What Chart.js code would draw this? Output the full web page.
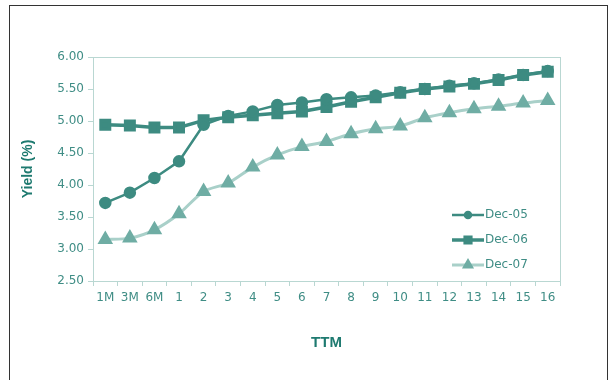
<!DOCTYPE html>
<html>
<head>
<meta charset="utf-8">
<script src="https://cdn.jsdelivr.net/npm/chart.js@4/dist/chart.umd.min.js"></script>
<style>
  html, body { margin: 0; padding: 0; background: #fff; }
  #wrap { position: relative; width: 614px; height: 380px; overflow: hidden; }
  #frame { position: absolute; left: 9px; top: 5px; width: 599px; height: 400px; border: 1px solid #333; box-sizing: border-box; }
  canvas { position: absolute; left: 0; top: 0; }
</style>
</head>
<body>
<div id="wrap">
  <div id="frame"></div>
  <canvas id="chart" width="614" height="380"></canvas>
</div>
<script>
// --- DATOS ---
const categories = ['1M', '3M', '6M', '1', '2', '3', '4', '5', '6', '7', '8', '9', '10', '11', '12', '13', '14', '15', '16'];
const dec05 = [3.72, 3.88, 4.11, 4.37, 4.94, 5.08, 5.15, 5.25, 5.29, 5.34, 5.37, 5.40, 5.45, 5.50, 5.55, 5.59, 5.65, 5.72, 5.78];
const dec06 = [4.94, 4.93, 4.90, 4.90, 5.01, 5.06, 5.09, 5.12, 5.15, 5.22, 5.30, 5.37, 5.44, 5.50, 5.54, 5.58, 5.64, 5.72, 5.77];
const dec07 = [3.15, 3.17, 3.30, 3.55, 3.90, 4.03, 4.28, 4.47, 4.60, 4.68, 4.80, 4.88, 4.92, 5.05, 5.13, 5.19, 5.23, 5.28, 5.32];
const yTicks = [2.5, 3.0, 3.5, 4.0, 4.5, 5.0, 5.5, 6.0];

const TEXT = '#3f8d85';
const TITLE = '#1e7a70';
const AXIS = '#b9d7d2';
const DARK = '#3d8b81';
const LIGHT_LINE = '#a9d0c9';
const LIGHT_PT = '#6fada4';

// leyenda dibujada dentro del área del gráfico
const insideLegend = {
    id: 'insideLegend',
    afterDatasetsDraw(chart) {
        const ctx = chart.ctx;
        const x0 = 452, x1 = 484;
        const ys = [215, 240, 265];
        chart.data.datasets.forEach((ds, i) => {
            const y = ys[i];
            ctx.save();
            ctx.strokeStyle = ds.borderColor;
            ctx.lineWidth = ds.borderWidth;
            ctx.beginPath();
            ctx.moveTo(x0, y);
            ctx.lineTo(x1, y);
            ctx.stroke();
            ctx.fillStyle = ds.pointBackgroundColor;
            ctx.strokeStyle = ds.pointBackgroundColor;
            const r = ds.pointStyle === 'circle' ? 3 : 4;
            Chart.helpers.drawPoint(ctx, { pointStyle: ds.pointStyle, rotation: 0, borderWidth: 1, radius: r }, (x0 + x1) / 2, y);
            ctx.fillStyle = TEXT;
            ctx.font = '12px "DejaVu Sans", Verdana, sans-serif';
            ctx.textBaseline = 'middle';
            ctx.textAlign = 'left';
            ctx.fillText(ds.label, x1 + 1, y);
            ctx.restore();
        });
    }
};

// borde del área de trazado
const plotBorder = {
    id: 'plotBorder',
    beforeDatasetsDraw(chart) {
        const { ctx, chartArea: a } = chart;
        ctx.save();
        ctx.strokeStyle = AXIS;
        ctx.lineWidth = 1;
        ctx.strokeRect(a.left + 0.5, a.top + 0.5, a.right - a.left, a.bottom - a.top);
        ctx.restore();
    }
};

new Chart(document.getElementById('chart').getContext('2d'), {
    type: 'line',
    data: {
        labels: categories,
        datasets: [
            {
                label: 'Dec-05',
                data: dec05,
                borderColor: DARK,
                backgroundColor: DARK,
                pointBackgroundColor: DARK,
                pointBorderColor: DARK,
                borderWidth: 2.5,
                pointStyle: 'circle',
                pointRadius: 5,
                tension: 0
            },
            {
                label: 'Dec-06',
                data: dec06,
                borderColor: DARK,
                backgroundColor: DARK,
                pointBackgroundColor: DARK,
                pointBorderColor: DARK,
                borderWidth: 3.5,
                pointStyle: 'rect',
                pointRadius: 6,
                tension: 0
            },
            {
                label: 'Dec-07',
                data: dec07,
                borderColor: LIGHT_LINE,
                backgroundColor: LIGHT_PT,
                pointBackgroundColor: LIGHT_PT,
                pointBorderColor: LIGHT_PT,
                borderWidth: 3,
                pointStyle: 'triangle',
                pointRadius: 6,
                tension: 0.25
            }
        ]
    },
    options: {
        responsive: false,
        animation: false,
        layout: { padding: { left: 13, top: 57, right: 54, bottom: 20 } },
        plugins: {
            legend: { display: false },
            tooltip: { enabled: false }
        },
        scales: {
            x: {
                offset: true,
                grid: { display: true, drawOnChartArea: false, drawTicks: true, tickLength: 5, color: AXIS, offset: true },
                border: { color: AXIS },
                ticks: { color: TEXT, font: { family: '"DejaVu Sans", Verdana, sans-serif', size: 12 }, padding: 5, maxRotation: 0, autoSkip: false },
                title: { display: true, text: 'TTM', color: TITLE, font: { family: '"Liberation Sans", Arial, sans-serif', size: 15, weight: 'bold' }, padding: { top: 4, bottom: 8 } },
                afterFit: s => { s.height = 79; }
            },
            y: {
                min: 2.5,
                max: 6.0,
                afterBuildTicks: s => { s.ticks = yTicks.map(v => ({ value: v })); },
                grid: { drawOnChartArea: false, drawTicks: true, tickLength: 5, color: AXIS },
                border: { color: AXIS },
                ticks: { color: TEXT, font: { family: '"DejaVu Sans", Verdana, sans-serif', size: 12 }, padding: 4, callback: v => v.toFixed(2) },
                title: { display: true, text: 'Yield (%)', color: TITLE, font: { family: '"Liberation Sans", Arial, sans-serif', size: 14, weight: 'bold' }, padding: { top: 7, bottom: 6 } },
                afterFit: s => { s.width = 80; }
            }
        }
    },
    plugins: [plotBorder, insideLegend]
});
</script>
</body>
</html>
